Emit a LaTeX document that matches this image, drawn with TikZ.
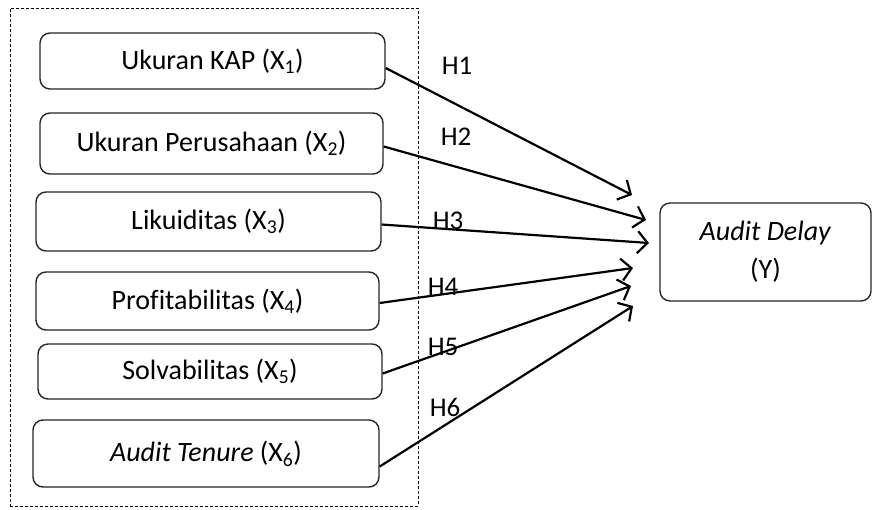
\documentclass[tikz,border=0pt]{standalone}
\usepackage{fontspec}
\setmainfont{Carlito}[Ligatures=NoCommon]
\usetikzlibrary{arrows.meta}
\tikzset{
  varbox/.style={draw=black!85, line width=1.4pt, rounded corners=10pt, inner sep=0pt, font=\fontsize{28}{32}\selectfont},
  link/.style={draw=black, line width=2.2pt, -{Straight Barb[length=10pt,width=22pt,line width=2.2pt]}},
  hlab/.style={font=\fontsize{27}{30}\selectfont, inner sep=0pt}
}
\begin{document}
\begin{tikzpicture}[x=1pt,y=-1pt]
\useasboundingbox (0,0) rectangle (874,509);
\node[draw=black, line width=1pt, dash pattern=on 3pt off 2pt, minimum width=408pt, minimum height=498pt, inner sep=0pt] (frame) at (214,257) {};
\node[varbox, minimum width=345pt, minimum height=56pt] (b1) at (212.5,61) {Ukuran KAP (X\textsubscript{1})};
\node[varbox, minimum width=343pt, minimum height=61pt] (b2) at (211.5,143.5) {Ukuran Perusahaan (X\textsubscript{2})};
\node[varbox, minimum width=345pt, minimum height=59pt] (b3) at (208.5,221.5) {Likuiditas (X\textsubscript{3})};
\node[varbox, minimum width=343pt, minimum height=58pt] (b4) at (207.5,301) {Profitabilitas (X\textsubscript{4})};
\node[varbox, minimum width=344pt, minimum height=55pt] (b5) at (210,371.5) {Solvabilitas (X\textsubscript{5})};
\node[varbox, minimum width=346pt, minimum height=67pt] (b6) at (206,453.5) {\textit{Audit Tenure} (X\textsubscript{6})};
\node[varbox, minimum width=211pt, minimum height=98pt, align=center, font=\fontsize{28}{38}\selectfont] (y) at (765.5,252) {\textit{Audit Delay}\\(Y)};
\coordinate (t1) at (632,195);
\coordinate (t2) at (646,220);
\coordinate (t3) at (649,243);
\coordinate (t4) at (633,268);
\coordinate (t5) at (631,286);
\coordinate (t6) at (633,306);
\draw[link] ([yshift=-7pt]b1.east) -- (t1);
\draw[link] ([yshift=-3pt]b2.east) -- (t2);
\draw[link] ([yshift=-3pt]b3.east) -- (t3);
\draw[link] ([yshift=-2pt]b4.east) -- (t4);
\draw[link] ([yshift=-2pt]b5.east) -- (t5);
\draw[link] ([yshift=-13pt]b6.east) -- (t6);
\node[hlab] (h1) at (457,66) {H1};
\node[hlab] (h2) at (456,137) {H2};
\node[hlab] (h3) at (448,221) {H3};
\node[hlab] (h4) at (443,287) {H4};
\node[hlab] (h5) at (443,347) {H5};
\node[hlab] (h6) at (445,407) {H6};
\end{tikzpicture}
\end{document}
